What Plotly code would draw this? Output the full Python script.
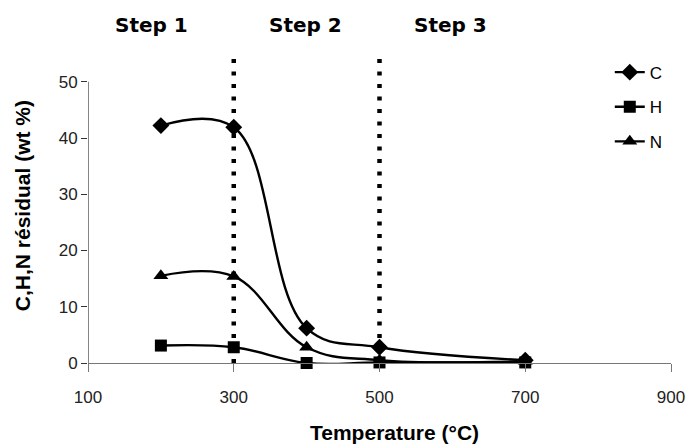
import plotly.graph_objects as go

temperature = [200, 300, 400, 500, 700]
carbon = [42.2, 41.9, 6.2, 2.8, 0.5]
hydrogen = [3.1, 2.8, 0.0, 0.1, 0.1]
nitrogen = [15.5, 15.4, 2.8, 0.5, 0.3]

step_boundaries = [300, 500]
step_labels = ["Step 1", "Step 2", "Step 3"]
step_label_x = [187, 398, 598]

x_ticks = [100, 300, 500, 700, 900]
y_ticks = [0, 10, 20, 30, 40, 50]

fig = go.Figure()

series = [
    ("C", carbon, "diamond", 13),
    ("H", hydrogen, "square", 12),
    ("N", nitrogen, "triangle-up", 13),
]
for i, (name, vals, sym, sz) in enumerate(series):
    fig.add_trace(go.Scatter(
        x=temperature, y=vals, name=name, mode="lines+markers",
        line=dict(color="black", width=2.4, shape="spline", smoothing=1.1),
        marker=dict(symbol=sym, size=sz, color="black"),
        cliponaxis=False, legendgroup=name,
    ))

for xb in step_boundaries:
    fig.add_shape(type="line", xref="x", yref="y", x0=xb, x1=xb, y0=0, y1=55.3,
                  line=dict(color="black", width=4.5, dash="4px,8.5px"), layer="above")

# y axis line only from 0 to 50
fig.add_shape(type="line", xref="x", yref="y", x0=100, x1=100, y0=0, y1=50,
              line=dict(color="#333", width=1.2), layer="below")

for lab, xl in zip(step_labels, step_label_x):
    fig.add_annotation(x=xl, y=1.073, xref="x", yref="paper", text=lab, showarrow=False,
                       font=dict(family="DejaVu Sans", size=20, color="black", weight="bold"),
                       xanchor="center", yanchor="middle")

fig.add_annotation(x=-0.112, y=0.5, xref="paper", yref="paper", text="<b>C,H,N résidual (wt %)</b>",
                   textangle=-90, showarrow=False,
                   font=dict(family="Liberation Sans, Arial", size=21, color="black"),
                   xanchor="center", yanchor="middle")
fig.add_annotation(x=0.525, y=-0.222, xref="paper", yref="paper", text="<b>Temperature (°C)</b>",
                   showarrow=False,
                   font=dict(family="Liberation Sans, Arial", size=21, color="black"),
                   xanchor="center", yanchor="middle")

fig.update_layout(
    width=697, height=446,
    margin=dict(l=88, r=19, t=48, b=83),
    plot_bgcolor="white", paper_bgcolor="white",
    font=dict(family="Liberation Sans, Arial", size=17, color="#222"),
    legend=dict(x=0.895, y=0.979, xanchor="left", yanchor="top",
                bgcolor="rgba(0,0,0,0)", tracegroupgap=9.5,
                font=dict(size=17, color="black")),
    xaxis=dict(range=[100, 900], tickvals=x_ticks, showgrid=False, zeroline=False,
               showline=True, linecolor="#777", linewidth=1.2,
               ticks="outside", ticklen=8, tickcolor="#777",
               ticklabelstandoff=10),
    yaxis=dict(range=[0, 56], tickvals=y_ticks, showgrid=False, zeroline=False,
               showline=False, ticks="outside", ticklen=6, tickcolor="#333"),
)

fig.write_html("out.html", post_script="document.body.style.margin='0';",
               config={"displayModeBar": False})
